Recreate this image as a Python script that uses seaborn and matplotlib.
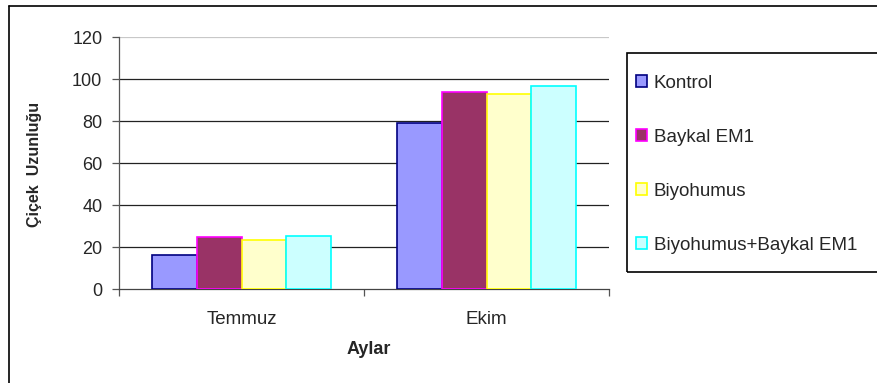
import matplotlib
matplotlib.use("Agg")
import matplotlib.pyplot as plt
import seaborn as sns
import pandas as pd
from matplotlib.lines import Line2D
from matplotlib.patches import Rectangle, Patch

months = ["Temmuz", "Ekim"]
series = ["Kontrol", "Baykal EM1", "Biyohumus", "Biyohumus+Baykal EM1"]
kontrol = [16.2, 79.0]
baykal = [24.8, 93.8]
biyohumus = [23.2, 93.0]
biyo_baykal = [25.4, 96.5]
yticks = [0, 20, 40, 60, 80, 100, 120]

fills = ["#9999FF", "#993366", "#FFFFCC", "#CCFFFF"]
edges = ["#000080", "#FF00FF", "#FFFF00", "#00FFFF"]

rows = []
for name, vals in zip(series, [kontrol, baykal, biyohumus, biyo_baykal]):
    for m, v in zip(months, vals):
        rows.append({"Ay": m, "Seri": name, "Deger": v})
df = pd.DataFrame(rows)

sns.set_theme(style="white")
plt.rcParams["font.family"] = ["Liberation Sans", "DejaVu Sans"]

W, H = 878, 383
fig = plt.figure(figsize=(W / 100, H / 100), dpi=100)
ax = fig.add_axes([119 / W, 1 - 289 / H, (609 - 119) / W, (289 - 37) / H])

sns.barplot(data=df, x="Ay", y="Deger", hue="Seri", order=months, hue_order=series,
            palette=fills, width=0.73, gap=0, saturation=1, ax=ax, legend=False,
            zorder=3)
for cont, ec in zip(ax.containers, edges):
    for bar in cont:
        bar.set_edgecolor(ec)
        bar.set_linewidth(1.2)

ax.set_ylim(0, 120)
ax.set_xlim(-0.5, 1.5)
ax.set_yticks(yticks)
ax.set_yticklabels([str(t) for t in yticks], fontsize=13)
for t in yticks[1:-1]:
    ax.axhline(t, color="#222222", lw=0.9, zorder=1)
ax.axhline(120, color="#c8c8c8", lw=0.9, zorder=1)

ax.set_xticks([-0.5, 0.5, 1.5])
ax.set_xticklabels(["", "", ""])
ax.set_xticks([0, 1], months, minor=True)
ax.tick_params(axis="x", which="minor", length=0, pad=16, labelsize=13.5)
ax.tick_params(axis="x", which="major", length=5, width=0.9, color="#555555", direction="out", bottom=True)
ax.tick_params(axis="y", length=5, width=0.9, color="#555555", direction="out", pad=7, left=True)
ax.set_xlabel("")
ax.set_ylabel("")

for s in ["top", "right"]:
    ax.spines[s].set_visible(False)
ax.spines["left"].set_color("#555555")
ax.spines["bottom"].set_color("#444444")
ax.spines["left"].set_linewidth(0.9)
ax.spines["bottom"].set_linewidth(0.9)

fig.text(35 / W, 1 - 164 / H, "Çiçek  Uzunluğu", rotation=90, ha="center", va="center",
         fontsize=11.5, fontweight="bold")
fig.text(369 / W, 1 - 350 / H, "Aylar", ha="center", va="center", fontsize=13, fontweight="bold")

# legend box
fig.add_artist(Rectangle((627 / W, 1 - 272 / H), (W + 5 - 627) / W, (272 - 53) / H,
                         transform=fig.transFigure, fill=False, edgecolor="black", lw=1.2))
handles = [Patch(facecolor=f, edgecolor=e, lw=1.2) for f, e in zip(fills, edges)]
leg = fig.legend(handles, series, loc="upper left", bbox_to_anchor=(636 / W, 1 - 75 / H),
                 frameon=False, fontsize=13.5, handlelength=0.6, handleheight=0.6,
                 handletextpad=0.35, labelspacing=1.97, borderpad=0, borderaxespad=0)

# outer chart border
fig.add_artist(Line2D([9.5 / W, 9.5 / W], [0, 1 - 5.5 / H], transform=fig.transFigure, color="black", lw=1.2))
fig.add_artist(Line2D([9.5 / W, 1], [1 - 5.5 / H, 1 - 5.5 / H], transform=fig.transFigure, color="black", lw=1.2))

fig.savefig("out.png", dpi=100)
